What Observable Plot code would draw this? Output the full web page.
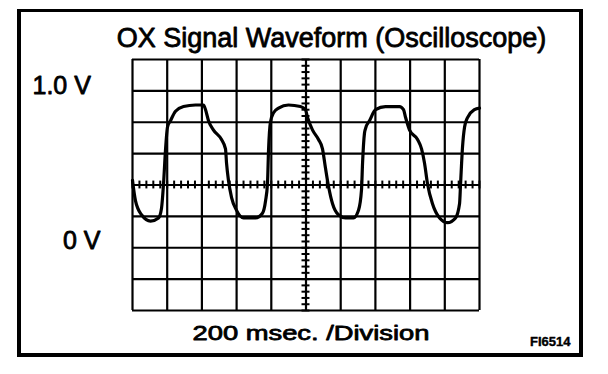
<!DOCTYPE html>
<html>
<head>
<meta charset="utf-8">
<script src="https://cdn.jsdelivr.net/npm/d3@7"></script>
<script src="https://cdn.jsdelivr.net/npm/@observablehq/plot@0.6"></script>
<style>
html, body { margin: 0; padding: 0; background: #fff; }
#wrap { position: relative; width: 608px; height: 374px; overflow: hidden; }
#border { position: absolute; left: 17px; top: 9px; width: 558px; height: 341px; border: 4px solid #000; border-top-width: 3px; pointer-events: none; }
</style>
</head>
<body>
<div id="wrap"><div id="border"></div></div>
<script>
// Texts
const titleText = "OX Signal Waveform (Oscilloscope)";
const xLabelText = "200 msec. /Division";
const figureId = "FI6514";
const yLabelValues = [1.0, 0];
const yLabelTexts = ["1.0 V", "0 V"];

// Grid: 10 divisions x 200 ms, 8 divisions x 0.2 V
const timeGrid = [0, 200, 400, 600, 800, 1000, 1200, 1400, 1600, 1800, 2000];
const voltGrid = [-0.4, -0.2, 0, 0.2, 0.4, 0.6, 0.8, 1.0, 1.2];
const centerTime = 1000;
const centerVolt = 0.4;
const minorTimeTicks = d3.range(0, 2001, 40);
const minorVoltTicks = d3.range(-0.4, 1.2001, 0.04);

// Waveform (ms, volts)
const timeMs = [0,17,52,104,150,167,179,190,202,219,248,294,363,409,421,438,467,513,536,542,553,571,599,640,709,749,767,778,784,795,813,842,899,968,997,1009,1038,1072,1095,1112,1130,1153,1187,1228,1274,1303,1320,1326,1337,1343,1366,1401,1458,1539,1562,1574,1597,1643,1666,1683,1700,1729,1770,1816,1862,1885,1891,1902,1914,1931,1971,2000];
const volts = [0.43,0.30,0.21,0.17,0.19,0.25,0.41,0.62,0.77,0.81,0.87,0.90,0.91,0.91,0.88,0.81,0.75,0.69,0.63,0.54,0.43,0.32,0.24,0.19,0.19,0.22,0.30,0.41,0.62,0.80,0.86,0.89,0.91,0.90,0.88,0.83,0.75,0.69,0.63,0.51,0.39,0.28,0.21,0.19,0.19,0.24,0.37,0.54,0.73,0.76,0.81,0.88,0.90,0.90,0.88,0.83,0.75,0.69,0.63,0.54,0.41,0.28,0.19,0.16,0.19,0.28,0.41,0.64,0.77,0.83,0.88,0.89];

const trace = timeMs.map((t, i) => ({t, v: volts[i]}));

const plot = Plot.plot({
  width: 608,
  height: 374,
  marginLeft: 132,
  marginRight: 129,
  marginTop: 59,
  marginBottom: 64,
  x: {domain: [0, 2000], axis: null},
  y: {domain: [-0.4, 1.2], axis: null},
  style: {fontFamily: "'Liberation Sans', Arial, Helvetica, sans-serif", background: "transparent", color: "#000"},
  marks: [
    Plot.ruleX(timeGrid, {stroke: "#000", strokeWidth: 2.2}),
    Plot.ruleY(voltGrid, {stroke: "#000", strokeWidth: 2.2}),
    Plot.ruleX(minorTimeTicks, {y1: centerVolt - 0.025, y2: centerVolt + 0.025, stroke: "#000", strokeWidth: 2}),
    Plot.ruleY(minorVoltTicks, {x1: centerTime - 23, x2: centerTime + 23, stroke: "#000", strokeWidth: 2}),
    Plot.line(trace, {x: "t", y: "v", curve: "monotone-x", stroke: "#000", strokeWidth: 3.2, strokeLinejoin: "round", strokeLinecap: "round"}),
    Plot.text([titleText], {text: d => d, frameAnchor: "top", lineAnchor: "middle", dx: 25.5, dy: -21.5, fontSize: 27, stroke: "#000", strokeWidth: 0.8, fill: "#000"}),
    Plot.text([yLabelValues[0]], {y: d => d, text: () => yLabelTexts[0], frameAnchor: "left", textAnchor: "start", lineAnchor: "middle", dx: -100, dy: -4.5, fontSize: 25, stroke: "#000", strokeWidth: 0.8, fill: "#000"}),
    Plot.text([yLabelValues[1]], {y: d => d, text: () => yLabelTexts[1], frameAnchor: "left", textAnchor: "end", lineAnchor: "middle", dx: -32, dy: -7, fontSize: 25, stroke: "#000", strokeWidth: 0.8, fill: "#000"}),
    Plot.text([xLabelText], {text: d => d, frameAnchor: "bottom", lineAnchor: "middle", dx: 5, dy: 22.5, fontSize: 21, stroke: "#000", strokeWidth: 0.8, fill: "#000"}),
    Plot.text([figureId], {text: d => d, frameAnchor: "bottom-right", textAnchor: "end", lineAnchor: "middle", dx: 91, dy: 31.5, fontSize: 13, fontWeight: "bold", stroke: "#000", strokeWidth: 0.4, fill: "#000"})
  ]
});

d3.select(plot).selectAll("text").each(function() {
  if (this.textContent === xLabelText) {
    this.setAttribute("textLength", 237);
    this.setAttribute("lengthAdjust", "spacingAndGlyphs");
  }
});

document.getElementById("wrap").insertBefore(plot, document.getElementById("border"));
plot.style.position = "absolute";
plot.style.left = "0";
plot.style.top = "0";
</script>
</body>
</html>
